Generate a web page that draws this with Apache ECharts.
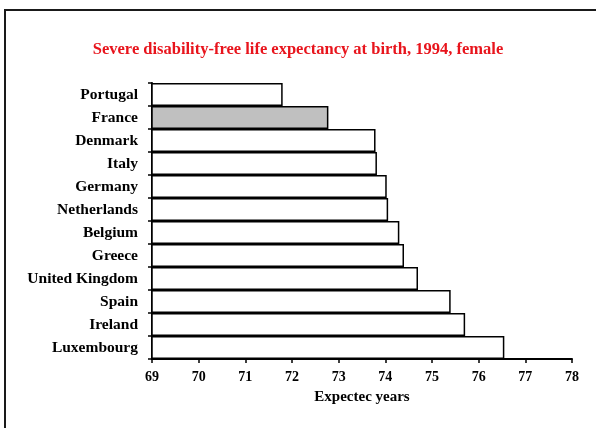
<!DOCTYPE html>
<html>
<head>
<meta charset="utf-8">
<script src="https://cdn.jsdelivr.net/npm/echarts@6/dist/echarts.min.js"></script>
<style>html,body{margin:0;padding:0;background:#fff}#c{width:596px;height:428px}</style>
</head>
<body>
<div id="c"></div>
<script>
const countries = ['Portugal','France','Denmark','Italy','Germany','Netherlands','Belgium','Greece','United Kingdom','Spain','Ireland','Luxembourg'];
const values = [71.80, 72.78, 73.79, 73.82, 74.03, 74.06, 74.30, 74.40, 74.70, 75.40, 75.71, 76.55];
const highlighted = 'France';
const xTicks = {min: 69, max: 78, interval: 1};
const titleText = 'Severe disability-free life expectancy at birth, 1994, female';
const xName = 'Expectec years';

const font = 'Liberation Serif';
const chart = echarts.init(document.getElementById('c'), null, {renderer: 'canvas'});
chart.setOption({
  animation: false,
  backgroundColor: '#fff',
  title: {
    text: titleText, left: 'center', top: 36,
    textStyle: {color: '#e8141c', fontFamily: font, fontWeight: 'bold', fontSize: 16.5}
  },
  graphic: [{
    type: 'rect', shape: {x: 5, y: 10, width: 800, height: 600},
    style: {fill: null, stroke: '#1a1a1a', lineWidth: 2}, silent: true
  }],
  grid: {left: 152, right: 24, top: 83, bottom: 69},
  xAxis: {
    type: 'value', min: xTicks.min, max: xTicks.max, interval: xTicks.interval,
    name: xName, nameLocation: 'middle', nameGap: 31,
    nameTextStyle: {color: '#000', fontFamily: font, fontWeight: 'bold', fontSize: 15},
    axisLine: {show: true, lineStyle: {color: '#000', width: 2}},
    axisTick: {show: true, length: 4, lineStyle: {color: '#000', width: 1.5}},
    axisLabel: {color: '#000', fontFamily: font, fontWeight: 'bold', fontSize: 14, margin: 11},
    splitLine: {show: false}
  },
  yAxis: {
    type: 'category', data: countries, inverse: true,
    axisLine: {show: true, lineStyle: {color: '#000', width: 2}},
    axisTick: {show: true, length: 4, lineStyle: {color: '#000', width: 1.5}},
    axisLabel: {color: '#000', fontFamily: font, fontWeight: 'bold', fontSize: 15.5, margin: 14}
  },
  series: [{
    type: 'bar',
    data: values.map((v, i) => ({
      value: v,
      itemStyle: {color: countries[i] === highlighted ? '#c0c0c0' : '#fff'}
    })),
    barCategoryGap: 0,
    itemStyle: {borderColor: '#000', borderWidth: 1.5},
    clip: true
  }]
});
</script>
</body>
</html>
